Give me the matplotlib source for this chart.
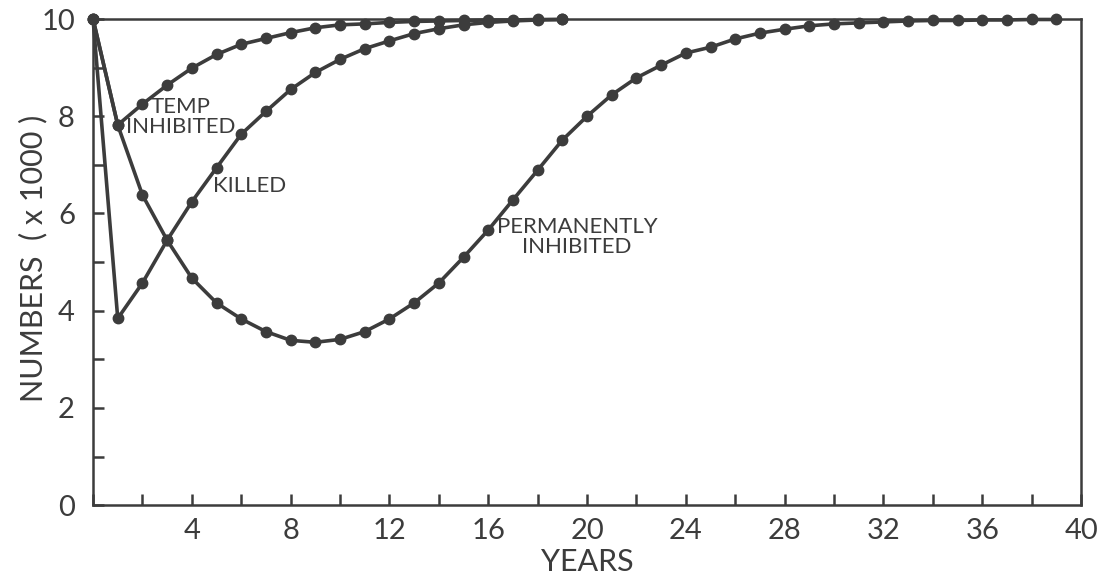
import matplotlib.pyplot as plt
from matplotlib.ticker import MultipleLocator

plt.rcParams['font.family'] = ['Lato', 'DejaVu Sans']

ink = '#3c3c3c'

# values (x 1000)
years_short = list(range(0, 20))
temp_inhibited = [10.0, 7.82, 8.25, 8.64, 8.99, 9.27, 9.48, 9.60, 9.72, 9.82,
                  9.88, 9.90, 9.93, 9.95, 9.96, 9.97, 9.98, 9.98, 9.99, 9.99]
killed = [10.0, 3.84, 4.57, 5.45, 6.24, 6.94, 7.63, 8.10, 8.55, 8.90,
          9.17, 9.39, 9.55, 9.70, 9.80, 9.88, 9.93, 9.96, 9.98, 9.99]

years_long = list(range(0, 40))
perm_inhibited = [10.0, 7.82, 6.38, 5.45, 4.67, 4.16, 3.83, 3.57, 3.39, 3.35,
                  3.41, 3.57, 3.83, 4.16, 4.57, 5.10, 5.66, 6.28, 6.89, 7.51,
                  8.00, 8.44, 8.79, 9.05, 9.30, 9.42, 9.59, 9.71, 9.79, 9.86,
                  9.90, 9.92, 9.94, 9.96, 9.97, 9.97, 9.98, 9.98, 9.99, 9.99]

x_ticks = [4, 8, 12, 16, 20, 24, 28, 32, 36, 40]
y_ticks = [0, 2, 4, 6, 8, 10]

fig = plt.figure(figsize=(11.09, 5.76), dpi=100)
ax = fig.add_axes([0.0839, 0.123, 0.8909, 0.844])

style = dict(color=ink, lw=2.6, marker='o', markersize=7.5,
             markerfacecolor=ink, markeredgecolor=ink, clip_on=False, zorder=3)
ax.plot(years_long, perm_inhibited, **style)
ax.plot(years_short, killed, **style)
ax.plot(years_short, temp_inhibited, **style)

ax.set_xlim(0, 40)
ax.set_ylim(0, 10)
ax.set_xticks(x_ticks)
ax.set_yticks(y_ticks)
ax.xaxis.set_minor_locator(MultipleLocator(2))
ax.yaxis.set_minor_locator(MultipleLocator(1))
ax.tick_params(which='both', direction='in', color=ink, width=1.8,
               top=False, right=False)
ax.tick_params(axis='x', which='both', length=8, pad=9, labelsize=21, labelcolor=ink)
ax.tick_params(axis='y', which='both', length=8, pad=13, labelsize=21, labelcolor=ink)
for s in ax.spines.values():
    s.set_color(ink)
    s.set_linewidth(1.8)

ax.set_xlabel('YEARS', fontsize=22, color=ink)
ax.set_ylabel('NUMBERS  ( x 1000 )', fontsize=22, color=ink)
ax.xaxis.set_label_coords(0.5, -0.117)
ax.yaxis.set_label_coords(-0.061, 0.508)
ax.xaxis.label.set_va('center')
ax.yaxis.label.set_va('center')

lab = dict(fontsize=16, color=ink, ha='center', va='center',
           multialignment='center', linespacing=1.0)
ax.text(3.55, 7.98, 'TEMP\nINHIBITED', **lab)
ax.text(6.35, 6.56, 'KILLED', **lab)
ax.text(19.6, 5.51, 'PERMANENTLY\nINHIBITED', **lab)

fig.savefig('out.png', dpi=100)
